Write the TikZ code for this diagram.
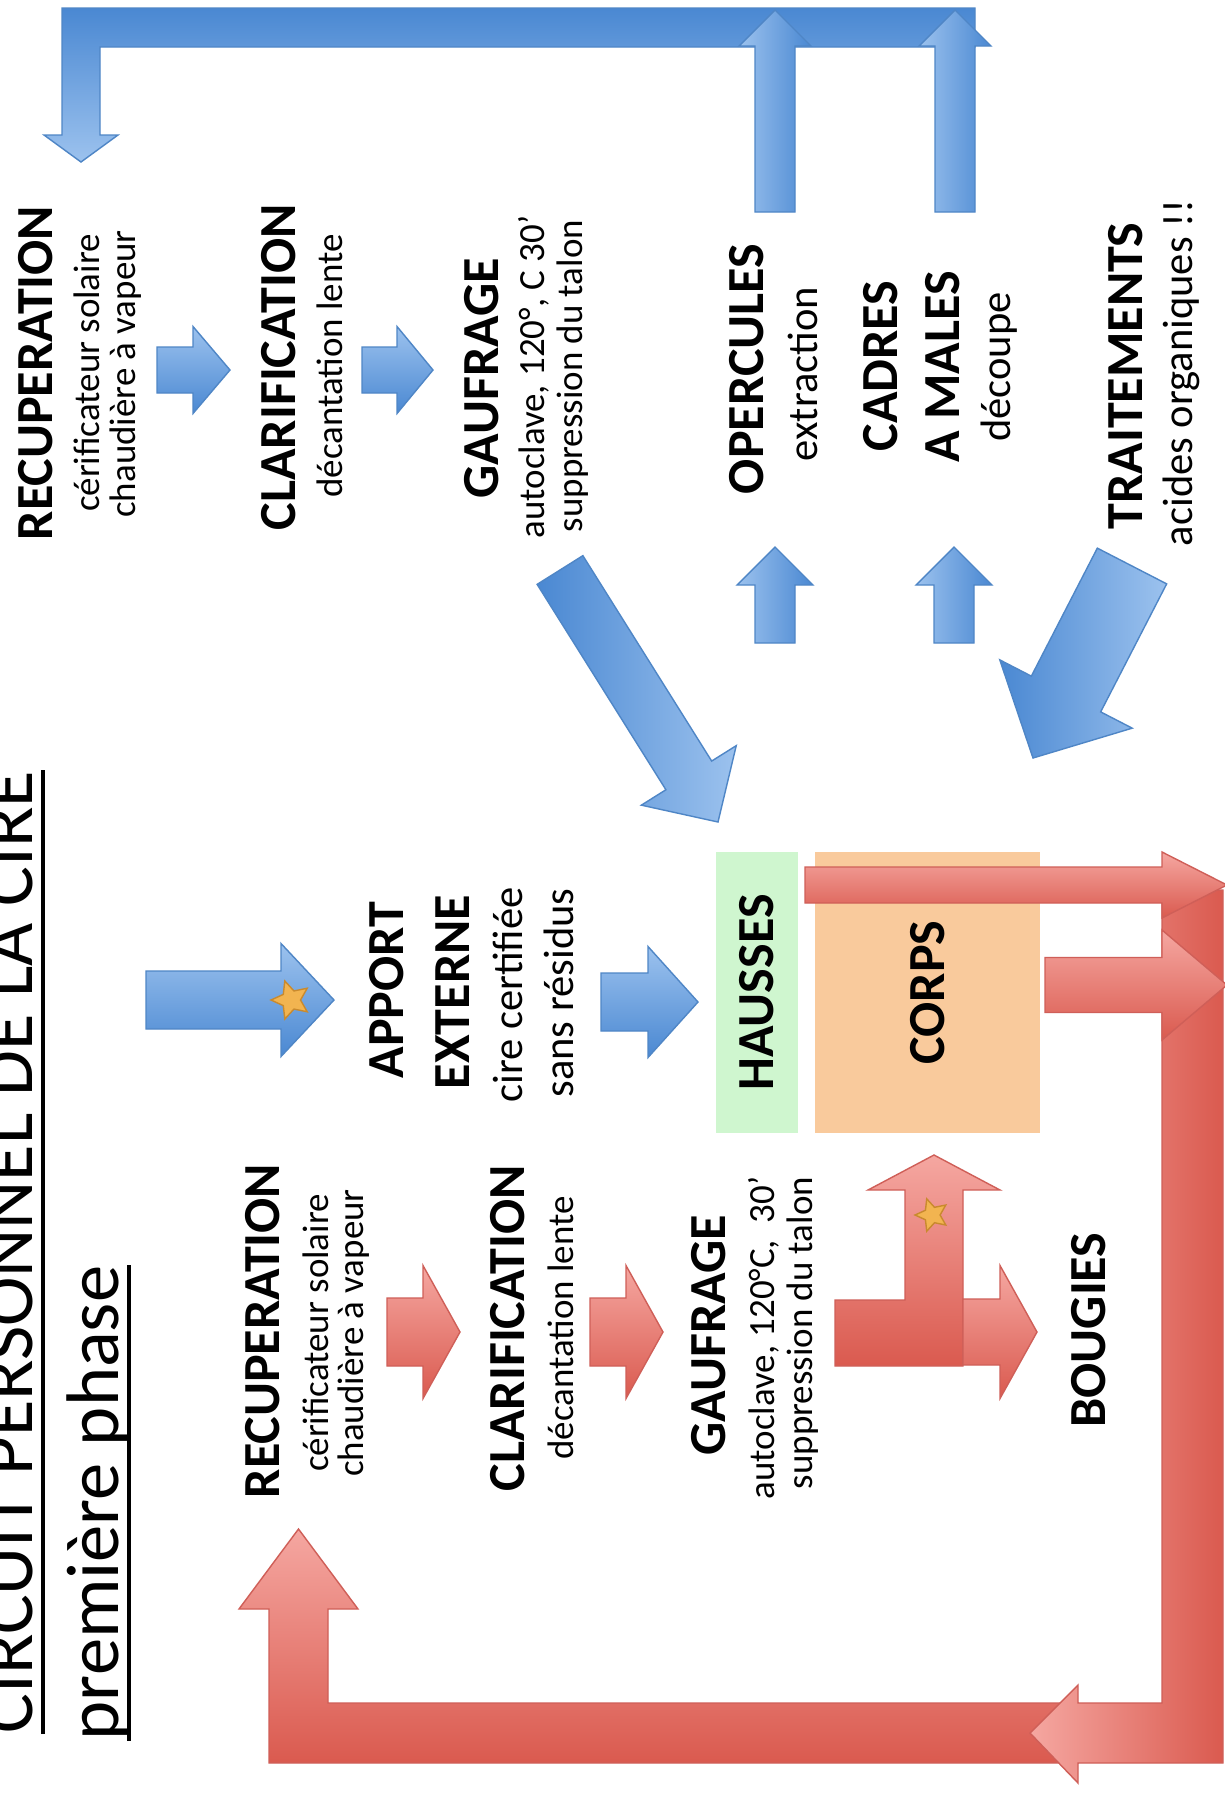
\documentclass[tikz,border=0pt]{standalone}
\usepackage{fontspec}
\setmainfont{Carlito}
\usetikzlibrary{shapes.geometric,calc}
\definecolor{bL}{HTML}{9CC2EE}
\definecolor{bD}{HTML}{4A88D2}
\definecolor{bE}{HTML}{4F86C6}
\definecolor{rL}{HTML}{F5A7A1}
\definecolor{rD}{HTML}{DA5A4F}
\definecolor{rE}{HTML}{CF5F58}
\definecolor{hgreen}{HTML}{CFF6CF}
\definecolor{corpsc}{HTML}{F9CA9C}
\definecolor{starc}{HTML}{F2B450}
\definecolor{stare}{HTML}{C98A2E}
% block arrow: style, x1,y1 (tail middle), x2,y2 (tip), shaft width, head width, head length
\newcommand\fatarr[8]{%
\pgfmathsetmacro\fadx{(#4)-(#2)}%
\pgfmathsetmacro\fady{(#5)-(#3)}%
\pgfmathsetmacro\faL{veclen(\fadx,\fady)}%
\pgfmathsetmacro\faux{\fadx/\faL}%
\pgfmathsetmacro\fauy{\fady/\faL}%
\pgfmathsetmacro\fabx{(#4)-(\faux)*(#8)}%
\pgfmathsetmacro\faby{(#5)-(\fauy)*(#8)}%
\pgfmathsetmacro\fawx{-(\fauy)*(#6)/2}%
\pgfmathsetmacro\fawy{(\faux)*(#6)/2}%
\pgfmathsetmacro\fahx{-(\fauy)*(#7)/2}%
\pgfmathsetmacro\fahy{(\faux)*(#7)/2}%
\pgfmathsetmacro\paX{(#2)+(\fawx)}\pgfmathsetmacro\paY{(#3)+(\fawy)}%
\pgfmathsetmacro\pbX{(\fabx)+(\fawx)}\pgfmathsetmacro\pbY{(\faby)+(\fawy)}%
\pgfmathsetmacro\pcX{(\fabx)+(\fahx)}\pgfmathsetmacro\pcY{(\faby)+(\fahy)}%
\pgfmathsetmacro\pdX{(\fabx)-(\fahx)}\pgfmathsetmacro\pdY{(\faby)-(\fahy)}%
\pgfmathsetmacro\peX{(\fabx)-(\fawx)}\pgfmathsetmacro\peY{(\faby)-(\fawy)}%
\pgfmathsetmacro\pfX{(#2)-(\fawx)}\pgfmathsetmacro\pfY{(#3)-(\fawy)}%
\path[#1] (\paX,\paY) -- (\pbX,\pbY) -- (\pcX,\pcY) -- (#4,#5) -- (\pdX,\pdY) -- (\peX,\peY) -- (\pfX,\pfY) -- cycle;}
\tikzset{
  bluebar/.style={top color=bD, bottom color=bL, draw=bE, line width=0.4pt},
  bluer/.style={top color=bL, bottom color=bD, draw=bE, line width=0.4pt},
  blueup/.style={left color=bL, right color=bD, draw=bE, line width=0.4pt},
  bluediag/.style={left color=bD, right color=bL, draw=bE, line width=0.4pt},
  redr/.style={top color=rL, bottom color=rD, draw=rE, line width=0.4pt},
  redv/.style={left color=rL, right color=rD, draw=rE, line width=0.4pt},
  ttl/.style={rotate=90, anchor=base, inner sep=0pt, font=\fontsize{14.8pt}{17pt}\selectfont\bfseries},
  sub/.style={rotate=90, anchor=base, inner sep=0pt, font=\fontsize{10.5pt}{12pt}\selectfont},
  subl/.style={rotate=90, anchor=base, inner sep=0pt, font=\fontsize{12.1pt}{14pt}\selectfont},
  hdr/.style={rotate=90, anchor=base, inner sep=0pt, font=\fontsize{21.2pt}{25pt}\selectfont},
  boxn/.style={rotate=90, inner sep=0pt, font=\fontsize{14.8pt}{17pt}\selectfont\bfseries},
  starshape/.style={star, star points=5, star point ratio=2.1, fill=starc, draw=stare, line width=0.4pt, inner sep=0pt, shape border rotate=90},
}
\begin{document}
\begin{tikzpicture}[x=0.01cm,y=-0.01cm]
\useasboundingbox (0,0) rectangle (1225,1793);
\clip (0,0) rectangle (1225,1793);
\fill[white] (0,0) rectangle (1225,1793);

% ---------- blue circuit ----------
\path[bluebar] (975,8) -- (62,8) -- (62,135) -- (44,135) -- (81,162) -- (118,135) -- (100,135) -- (100,47) -- (975,47) -- cycle;
\fatarr{blueup}{775}{212}{775}{10}{40}{72}{36}
\fatarr{blueup}{955}{212}{955}{10}{40}{72}{36}
\fatarr{bluer}{157}{370}{230}{370}{46}{87}{37}
\fatarr{bluer}{362}{370}{433}{370}{46}{87}{36}
\fatarr{bluediag}{560}{570}{718}{822}{54}{112}{55}
\fatarr{blueup}{775}{643}{775}{547}{40}{76}{38}
\fatarr{blueup}{954}{643}{954}{547}{40}{76}{38}
\fatarr{bluediag}{1132}{566}{1033}{758}{78}{149}{72}
\fatarr{bluer}{146}{1000}{334}{1000}{58}{113}{53}
\fatarr{bluer}{601}{1002}{698}{1002}{58}{111}{50}

% ---------- boxes ----------
\node[boxn, fill=hgreen, minimum width=2.81cm, minimum height=0.82cm] (hausses) at (757,992.5) {HAUSSES};
\node[boxn, fill=corpsc, minimum width=2.81cm, minimum height=2.25cm] (corps) at (927.5,992.5) {CORPS};

% ---------- red circuit ----------
\path[redr] (1078,1703) -- (328,1703) -- (328,1609) -- (358,1609) -- (298.5,1529) -- (239,1609) -- (269,1609) -- (269,1763) -- (1078,1763) -- cycle;
\path[redv] (1162,890) -- (1223,890) -- (1223,1763) -- (1078,1763) -- (1078,1783) -- (1030,1733) -- (1078,1685) -- (1078,1703) -- (1162,1703) -- cycle;
\fatarr{redr}{805}{885}{1227}{885}{36}{66}{65}
\fatarr{redr}{1045}{985}{1227}{985}{55}{110}{65}
\fatarr{redr}{387}{1332}{460}{1332}{68}{133}{37}
\fatarr{redr}{590}{1332}{663}{1332}{68}{133}{37}
\path[redr] (835,1300) -- (905,1300) -- (905,1190) -- (868,1190) -- (934,1155) -- (1000,1190) -- (963,1190) -- (963,1366) -- (835,1366) -- cycle;
\fatarr{redr}{963}{1332}{1037}{1332}{66}{133}{37}

% stars
\node[starshape, minimum size=0.4cm] (star1) at (291,1000) {};
\node[starshape, minimum size=0.34cm] (star2) at (932,1215) {};

% ---------- title ----------
\node[hdr] (title) at (32,1252) {CIRCUIT PERSONNEL DE LA CIRE};
\node[hdr] (phase) at (118,1503) {première phase};
\draw[line width=1.3pt] ($(title.base west)+(11,0)$) -- ($(title.base east)+(11,0)$);
\draw[line width=1.3pt] ($(phase.base west)+(11,0)$) -- ($(phase.base east)+(11,0)$);

% ---------- blue texts ----------
\node[ttl] (brecup) at (52,373) {RECUPERATION};
\node[sub] (brecup1) at (100,373) {cérificateur solaire};
\node[sub] (brecup2) at (136,374) {chaudière à vapeur};
\node[ttl] (bclar) at (295,367) {CLARIFICATION};
\node[sub] (bclar1) at (342,366) {décantation lente};
\node[ttl] (bgauf) at (498,378) {GAUFRAGE};
\node[sub] (bgauf1) at (544,377) {autoclave, 120°, C 30'};
\node[sub] (bgauf2) at (582,376) {suppression du talon};
\node[ttl] (operc) at (763,369) {OPERCULES};
\node[subl] (operc1) at (817,374) {extraction};
\node[ttl] (cadres) at (897,366) {CADRES};
\node[ttl] (males) at (959,367) {A MALES};
\node[subl] (males1) at (1010,367) {découpe};
\node[ttl] (trait) at (1142,376) {TRAITEMENTS};
\node[subl] (trait1) at (1192,373) {acides organiques !!};
\node[ttl] (apport) at (403,990) {APPORT};
\node[ttl] (externe) at (469,992) {EXTERNE};
\node[subl] (externe1) at (522,995) {cire certifiée};
\node[subl] (externe2) at (573,993) {sans résidus};

% ---------- red texts ----------
\node[ttl] (rrecup) at (279,1331) {RECUPERATION};
\node[sub] (rrecup1) at (328,1333) {cérificateur solaire};
\node[sub] (rrecup2) at (363,1333) {chaudière à vapeur};
\node[ttl] (rclar) at (524,1328) {CLARIFICATION};
\node[sub] (rclar1) at (573,1328) {décantation lente};
\node[ttl] (rgauf) at (725,1335) {GAUFRAGE};
\node[sub] (rgauf1) at (774,1338) {autoclave, 120°C,~~30'};
\node[sub] (rgauf2) at (812,1333) {suppression du talon};
\node[ttl] (bougies) at (1105,1330) {BOUGIES};
\end{tikzpicture}
\end{document}
